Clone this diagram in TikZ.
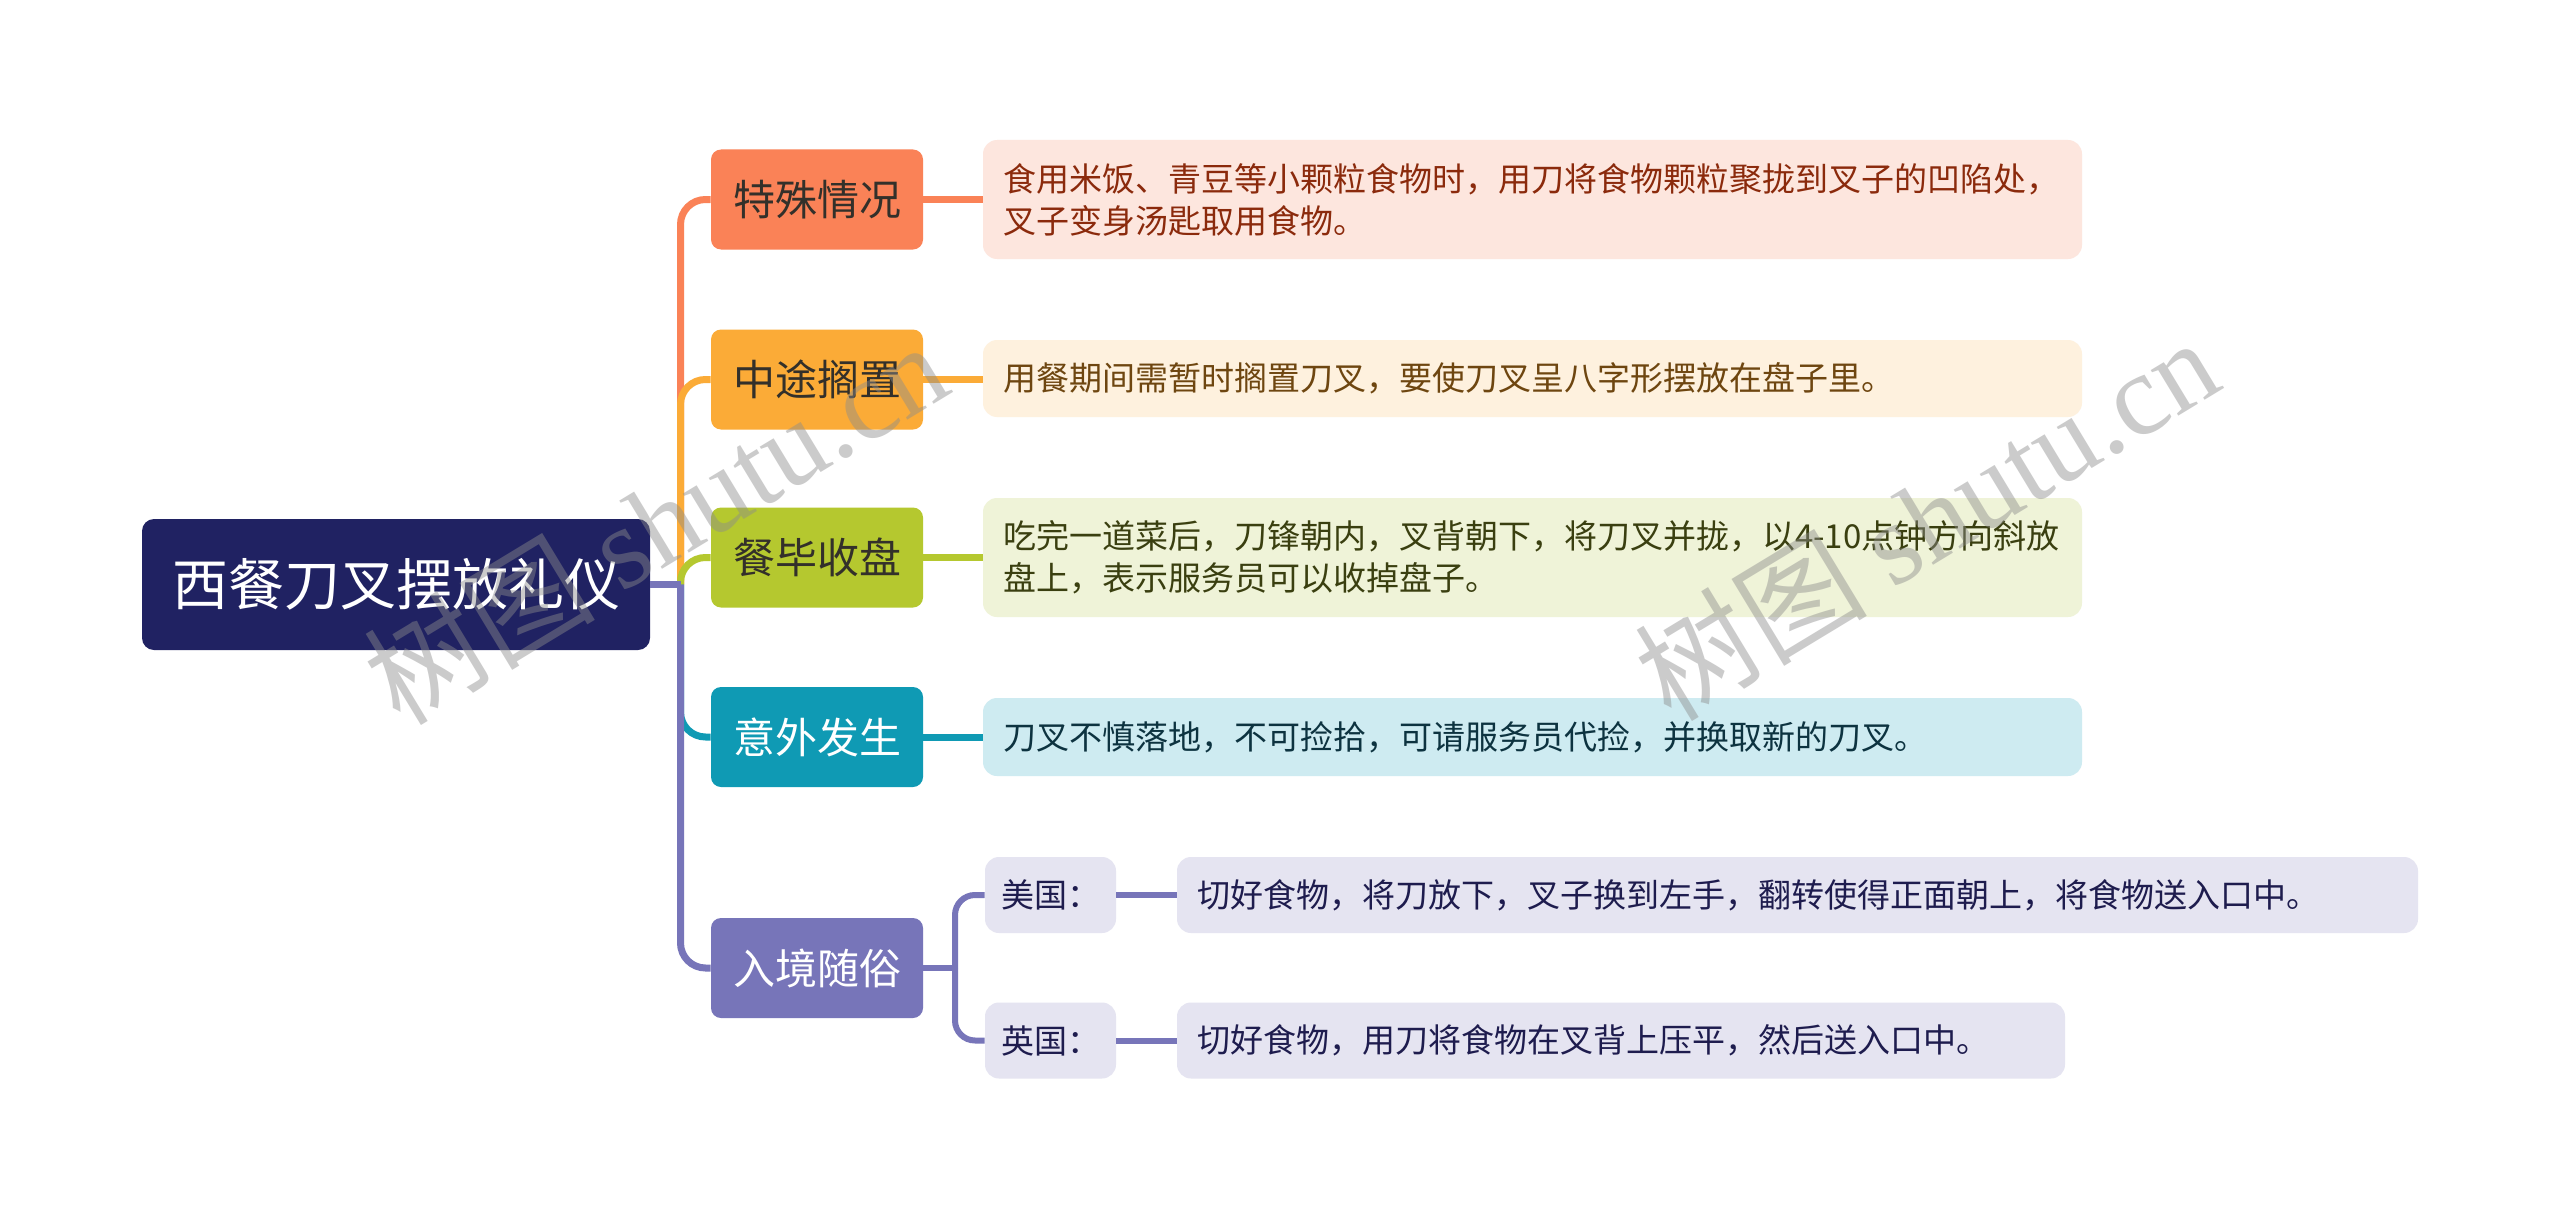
\documentclass[tikz,border=0pt]{standalone}
\usepackage{fontspec}
\setmainfont{Noto Sans CJK SC}
\newfontfamily\wmlatin{Liberation Serif}
\definecolor{rootc}{HTML}{202262}
\definecolor{cA}{HTML}{FA8257}
\definecolor{cB}{HTML}{FBAB37}
\definecolor{cC}{HTML}{B5C82F}
\definecolor{cD}{HTML}{0F9AB4}
\definecolor{cE}{HTML}{7775B9}
\definecolor{fA}{HTML}{FDE6DE}
\definecolor{fB}{HTML}{FEF1DE}
\definecolor{fC}{HTML}{EFF3D8}
\definecolor{fD}{HTML}{CEEBF1}
\definecolor{fE}{HTML}{E5E4F1}
\definecolor{tA}{HTML}{8B2A0C}
\definecolor{tB}{HTML}{6E4610}
\definecolor{tC}{HTML}{3A3F10}
\definecolor{tD}{HTML}{0D3340}
\definecolor{tE}{HTML}{1E1C4E}
\definecolor{tdark}{HTML}{33302A}
\definecolor{wmc}{HTML}{8C8C8C}
\tikzset{
  rootbox/.style={fill=rootc, rounded corners=6pt, minimum width=254pt, minimum height=65.5pt,
    text=white, font=\fontsize{28}{34}\selectfont, inner sep=0pt},
  topic/.style={rounded corners=5pt, minimum width=106pt, minimum height=50pt,
    font=\fontsize{21}{26}\selectfont, inner sep=0pt},
  detail/.style={rounded corners=7pt, inner xsep=10pt, inner ysep=0pt, align=left,
    font=\fontsize{16.5}{21}\selectfont},
  label/.style={rounded corners=7pt, inner sep=0pt, minimum width=65.5pt, minimum height=38pt,
    fill=fE, text=tE, font=\fontsize{16.5}{21}\selectfont},
  link/.style={line width=3.5pt, rounded corners=12.5pt},
  sublink/.style={line width=3pt, rounded corners=10pt, draw=cE},
  wm/.style={text=wmc, opacity=0.45, font=\fontsize{58}{64}\selectfont, inner sep=0pt},
}
\begin{document}
\begin{tikzpicture}[x=0.5pt, y=-0.5pt]
\useasboundingbox (0,0) rectangle (2560,1220);
\fill[white] (0,0) rectangle (2560,1220);

% root
\node[rootbox] (root) at (396,584.5) {西餐刀叉摆放礼仪};

% topics
\node[topic, fill=cA, text=tdark] (t1) at (817,199.5) {特殊情况};
\node[topic, fill=cB, text=tdark] (t2) at (817,379.5) {中途搁置};
\node[topic, fill=cC, text=tdark] (t3) at (817,557.5) {餐毕收盘};
\node[topic, fill=cD, text=white] (t4) at (817,737) {意外发生};
\node[topic, fill=cE, text=white] (t5) at (817,968) {入境随俗};

% details
\node[detail, fill=fA, text=tA, text width=529.5pt, minimum height=59.5pt] (d1) at (1532.5,199.5)
  {食用米饭、青豆等小颗粒食物时，用刀将食物颗粒聚拢到叉子的凹陷处，\\叉子变身汤匙取用食物。};
\node[detail, fill=fB, text=tB, text width=529.5pt, minimum height=38.5pt] (d2) at (1532.5,378.5)
  {用餐期间需暂时搁置刀叉，要使刀叉呈八字形摆放在盘子里。};
\node[detail, fill=fC, text=tC, text width=529.5pt, minimum height=59.5pt] (d3) at (1532.5,557.5)
  {吃完一道菜后，刀锋朝内，叉背朝下，将刀叉并拢，以4-10点钟方向斜放\\盘上，表示服务员可以收掉盘子。};
\node[detail, fill=fD, text=tD, text width=529.5pt, minimum height=39pt] (d4) at (1532.5,737)
  {刀叉不慎落地，不可捡拾，可请服务员代捡，并换取新的刀叉。};

\node[label] (us) at (1050.5,895) {美国：};
\node[label] (uk) at (1050.5,1040.5) {英国：};
\node[detail, fill=fE, text=tE, text width=600.5pt, minimum height=38pt] (usd) at (1797.5,895)
  {切好食物，将刀放下，叉子换到左手，翻转使得正面朝上，将食物送入口中。};
\node[detail, fill=fE, text=tE, text width=424pt, minimum height=38pt] (ukd) at (1621,1040.5)
  {切好食物，用刀将食物在叉背上压平，然后送入口中。};

% connectors
\coordinate (spine) at (680.5,584.5);
\coordinate (sj) at (955,968);
\draw[link, draw=cA] (spine) |- (t1.west);
\draw[link, draw=cB] (spine) |- (t2.west);
\draw[link, draw=cC] (spine) |- (t3.west);
\draw[link, draw=cD] (spine) |- (t4.west);
\draw[link, draw=cE] (spine) |- (t5.west);
\draw[link, draw=cE] (root.east) -- (spine);

\draw[link, draw=cA] (t1.east) -- (t1.east -| d1.west);
\draw[link, draw=cB] (t2.east) -- (t2.east -| d2.west);
\draw[link, draw=cC] (t3.east) -- (t3.east -| d3.west);
\draw[link, draw=cD] (t4.east) -- (t4.east -| d4.west);

\draw[sublink] (t5.east) -- (sj);
\draw[sublink] (sj) |- (us.west);
\draw[sublink] (sj) |- (uk.west);
\draw[sublink] (us.east) -- (usd.west);
\draw[sublink] (uk.east) -- (ukd.west);

% watermarks
\node[wm, rotate=31.2] (wm1) at (655,522) {树图 {\wmlatin shutu.cn}};
\node[wm, rotate=31.2] (wm2) at (1926,518) {树图 {\wmlatin shutu.cn}};
\end{tikzpicture}
\end{document}
